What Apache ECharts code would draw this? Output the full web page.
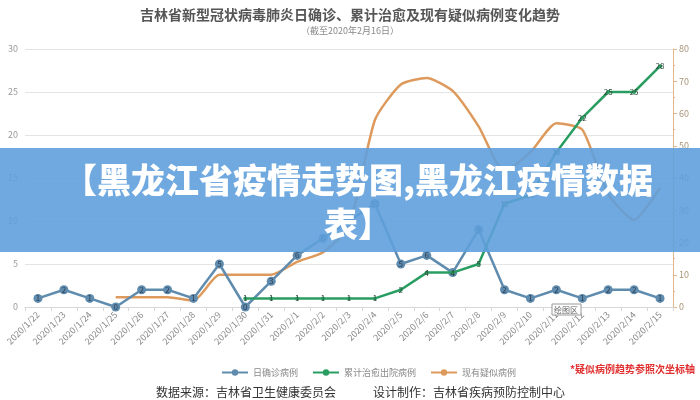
<!DOCTYPE html>
<html><head><meta charset="utf-8">
<script src="https://cdn.jsdelivr.net/npm/echarts@6/dist/echarts.min.js"></script>
<style>html,body{margin:0;padding:0;background:#fff}#c{width:700px;height:400px}</style>
</head><body><div id="c"></div>
<script>
var dates = ['2020/1/22','2020/1/23','2020/1/24','2020/1/25','2020/1/26','2020/1/27','2020/1/28','2020/1/29','2020/1/30','2020/1/31','2020/2/1','2020/2/2','2020/2/3','2020/2/4','2020/2/5','2020/2/6','2020/2/7','2020/2/8','2020/2/9','2020/2/10','2020/2/11','2020/2/12','2020/2/13','2020/2/14','2020/2/15'];
var confirmed = [1,2,1,0,2,2,1,5,0,3,6,8,10,12,5,6,4,9,2,1,2,1,2,2,1];
var cured = [null,null,null,null,null,null,null,null,1,1,1,1,1,1,2,4,4,5,12,13,18,22,25,25,28];
var suspected = [null,null,null,3,3,3,2,10,10,10,14,17,25,58,69,71,67,56,42,48,57,55,35,27,37];
var leftTicks = {min:0, max:30, interval:5};
var rightTicks = {min:0, max:80, interval:10};
var names = ['日确诊病例','累计治愈出院病例','现有疑似病例'];

var FONT = '"Noto Sans CJK SC","Noto Sans",sans-serif';
var chart = echarts.init(document.getElementById('c'), null, {renderer:'canvas'});
chart.setOption({
  animation:false,
  textStyle:{fontFamily:FONT},
  title:{
    text:'吉林省新型冠状病毒肺炎日确诊、累计治愈及现有疑似病例变化趋势',
    subtext:'（截至2020年2月16日）',
    left:'center', top:3, itemGap:4,
    textStyle:{fontSize:14, fontWeight:'bold', color:'#555', fontFamily:FONT},
    subtextStyle:{fontSize:9, color:'#888', fontFamily:FONT}
  },
  legend:{
    data:names, left:216, top:363, itemWidth:26, itemHeight:8, itemGap:14,
    textStyle:{fontSize:9, color:'#888', fontFamily:FONT}
  },
  grid:{left:25, right:27, top:49, bottom:93},
  xAxis:{
    type:'category', data:dates, boundaryGap:true,
    axisLine:{lineStyle:{color:'#d8d8d8'}},
    axisTick:{show:true, lineStyle:{color:'#d8d8d8'}, length:4},
    axisLabel:{rotate:45, fontSize:9, color:'#8a8a8a', margin:6, interval:0}
  },
  yAxis:[{
    type:'value', min:leftTicks.min, max:leftTicks.max, interval:leftTicks.interval,
    axisLine:{show:false}, axisTick:{show:false},
    axisLabel:{fontSize:9, color:'#999', margin:7},
    splitLine:{lineStyle:{color:'#e4e4e4', width:1}}
  },{
    type:'value', position:'right', min:rightTicks.min, max:rightTicks.max, interval:rightTicks.interval,
    axisLine:{show:true, lineStyle:{color:'#e2b88a'}},
    axisTick:{show:true, length:4, lineStyle:{color:'#e2b88a'}},
    minorTick:{show:true, splitNumber:2, length:2, lineStyle:{color:'#e2b88a'}},
    axisLabel:{fontSize:9, color:'#a89478', margin:6},
    splitLine:{show:false}
  }],
  series:[{
    name:names[0], type:'line', yAxisIndex:0, data:confirmed,
    symbol:'circle', symbolSize:9,
    lineStyle:{color:'#5f8cae', width:2.5},
    itemStyle:{color:'#5f8cae'},
    label:{show:true, position:'inside', fontSize:8, color:'#2c3e55'},
    z:3
  },{
    name:names[1], type:'line', yAxisIndex:0, data:cured,
    symbol:'circle', symbolSize:4,
    lineStyle:{color:'#2a9e62', width:2.5},
    itemStyle:{color:'#2a9e62'},
    label:{show:true, position:'inside', fontSize:8, color:'#2d4a38'},
    z:4
  },{
    name:names[2], type:'line', yAxisIndex:1, data:suspected,
    symbol:'none', smooth:0.2,
    lineStyle:{color:'#dd9a5c', width:2.5},
    itemStyle:{color:'#dd9a5c'},
    z:2
  }],
  graphic:[
    {type:'rect', z:200, shape:{x:0, y:148, width:700, height:104}, style:{fill:'rgba(95,160,220,0.9)'}},
    {type:'text', z:201, style:{text:'【黑龙江省疫情走势图,黑龙江疫情数据', x:358, y:180, textAlign:'center', textVerticalAlign:'middle', fontSize:34, fontWeight:900, fill:'#fff', fontFamily:FONT}},
    {type:'text', z:201, style:{text:'表】', x:358, y:224, textAlign:'center', textVerticalAlign:'middle', fontSize:34, fontWeight:900, fill:'#fff', fontFamily:FONT}},
    {type:'rect', z:50, shape:{x:552, y:304, width:29, height:11}, style:{fill:'#fff', stroke:'#999', lineWidth:1}},
    {type:'text', z:51, style:{text:'绘图区', x:566, y:310, textAlign:'center', textVerticalAlign:'middle', fontSize:8, fill:'#666', fontFamily:FONT}},
    {type:'text', style:{text:'*疑似病例趋势参照次坐标轴', x:570, y:369, textVerticalAlign:'middle', fontSize:10, fontWeight:'bold', fill:'#e03030', fontFamily:FONT}},
    {type:'text', style:{text:'数据来源：吉林省卫生健康委员会', x:156, y:392, textVerticalAlign:'middle', fontSize:12, fill:'#333', fontFamily:FONT}},
    {type:'text', style:{text:'设计制作：吉林省疾病预防控制中心', x:373, y:392, textVerticalAlign:'middle', fontSize:12, fill:'#333', fontFamily:FONT}}
  ]
});
</script>
</body></html>
